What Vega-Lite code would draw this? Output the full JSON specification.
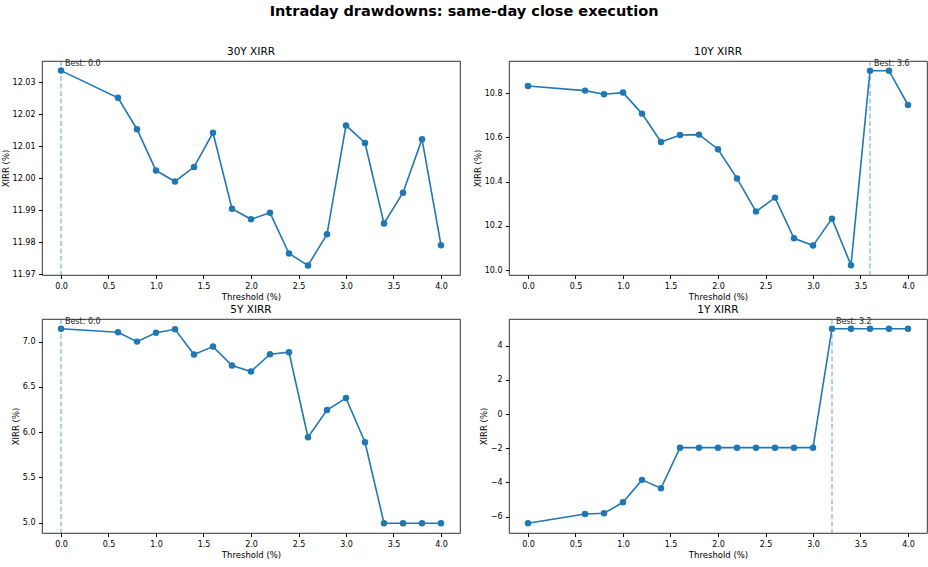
{
  "$schema": "https://vega.github.io/schema/vega-lite/v6.json",
  "title": {"text": "Intraday drawdowns: same-day close execution", "fontSize": 14.5, "fontWeight": "bold", "anchor": "middle", "offset": 27},
  "padding": {"left": 0, "top": 3, "right": 4, "bottom": 3},
  "columns": 2,
  "spacing": {"row": 3, "column": 11},
  "datasets": {
    "sweep": [
      {"period":"30Y","threshold":0,"xirr":12.0336},{"period":"30Y","threshold":0.6,"xirr":12.0251},{"period":"30Y","threshold":0.8,"xirr":12.0153},{"period":"30Y","threshold":1.0,"xirr":12.0024},{"period":"30Y","threshold":1.2,"xirr":11.999},{"period":"30Y","threshold":1.4,"xirr":12.0035},{"period":"30Y","threshold":1.6,"xirr":12.0142},{"period":"30Y","threshold":1.8,"xirr":11.9905},{"period":"30Y","threshold":2.0,"xirr":11.9872},{"period":"30Y","threshold":2.2,"xirr":11.9892},{"period":"30Y","threshold":2.4,"xirr":11.9765},{"period":"30Y","threshold":2.6,"xirr":11.9728},{"period":"30Y","threshold":2.8,"xirr":11.9825},{"period":"30Y","threshold":3.0,"xirr":12.0165},{"period":"30Y","threshold":3.2,"xirr":12.011},{"period":"30Y","threshold":3.4,"xirr":11.9859},{"period":"30Y","threshold":3.6,"xirr":11.9955},{"period":"30Y","threshold":3.8,"xirr":12.0122},{"period":"30Y","threshold":4.0,"xirr":11.9791},
      {"period":"10Y","threshold":0,"xirr":10.833},{"period":"10Y","threshold":0.6,"xirr":10.812},{"period":"10Y","threshold":0.8,"xirr":10.7955},{"period":"10Y","threshold":1.0,"xirr":10.803},{"period":"10Y","threshold":1.2,"xirr":10.708},{"period":"10Y","threshold":1.4,"xirr":10.58},{"period":"10Y","threshold":1.6,"xirr":10.611},{"period":"10Y","threshold":1.8,"xirr":10.613},{"period":"10Y","threshold":2.0,"xirr":10.547},{"period":"10Y","threshold":2.2,"xirr":10.415},{"period":"10Y","threshold":2.4,"xirr":10.265},{"period":"10Y","threshold":2.6,"xirr":10.328},{"period":"10Y","threshold":2.8,"xirr":10.144},{"period":"10Y","threshold":3.0,"xirr":10.111},{"period":"10Y","threshold":3.2,"xirr":10.233},{"period":"10Y","threshold":3.4,"xirr":10.0225},{"period":"10Y","threshold":3.6,"xirr":10.902},{"period":"10Y","threshold":3.8,"xirr":10.902},{"period":"10Y","threshold":4.0,"xirr":10.747},
      {"period":"5Y","threshold":0,"xirr":7.143},{"period":"5Y","threshold":0.6,"xirr":7.103},{"period":"5Y","threshold":0.8,"xirr":7.0},{"period":"5Y","threshold":1.0,"xirr":7.099},{"period":"5Y","threshold":1.2,"xirr":7.136},{"period":"5Y","threshold":1.4,"xirr":6.857},{"period":"5Y","threshold":1.6,"xirr":6.945},{"period":"5Y","threshold":1.8,"xirr":6.736},{"period":"5Y","threshold":2.0,"xirr":6.67},{"period":"5Y","threshold":2.2,"xirr":6.861},{"period":"5Y","threshold":2.4,"xirr":6.883},{"period":"5Y","threshold":2.6,"xirr":5.943},{"period":"5Y","threshold":2.8,"xirr":6.244},{"period":"5Y","threshold":3.0,"xirr":6.376},{"period":"5Y","threshold":3.2,"xirr":5.888},{"period":"5Y","threshold":3.4,"xirr":4.993},{"period":"5Y","threshold":3.6,"xirr":4.993},{"period":"5Y","threshold":3.8,"xirr":4.993},{"period":"5Y","threshold":4.0,"xirr":4.993},
      {"period":"1Y","threshold":0,"xirr":-6.389},{"period":"1Y","threshold":0.6,"xirr":-5.844},{"period":"1Y","threshold":0.8,"xirr":-5.805},{"period":"1Y","threshold":1.0,"xirr":-5.163},{"period":"1Y","threshold":1.2,"xirr":-3.85},{"period":"1Y","threshold":1.4,"xirr":-4.34},{"period":"1Y","threshold":1.6,"xirr":-1.965},{"period":"1Y","threshold":1.8,"xirr":-1.965},{"period":"1Y","threshold":2.0,"xirr":-1.965},{"period":"1Y","threshold":2.2,"xirr":-1.965},{"period":"1Y","threshold":2.4,"xirr":-1.965},{"period":"1Y","threshold":2.6,"xirr":-1.965},{"period":"1Y","threshold":2.8,"xirr":-1.965},{"period":"1Y","threshold":3.0,"xirr":-1.965},{"period":"1Y","threshold":3.2,"xirr":4.99},{"period":"1Y","threshold":3.4,"xirr":4.99},{"period":"1Y","threshold":3.6,"xirr":4.99},{"period":"1Y","threshold":3.8,"xirr":4.99},{"period":"1Y","threshold":4.0,"xirr":4.99}
    ],
    "best": [
      {"period":"30Y","threshold":0,"xirr":12.0336,"label":"Best: 0.0"},
      {"period":"10Y","threshold":3.6,"xirr":10.902,"label":"Best: 3.6"},
      {"period":"5Y","threshold":0,"xirr":7.143,"label":"Best: 0.0"},
      {"period":"1Y","threshold":3.2,"xirr":4.99,"label":"Best: 3.2"}
    ]
  },
  "concat": [
    {
      "title": "30Y XIRR", "width": 418, "height": 214,
      "layer": [
        {"data": {"name": "best"}, "transform": [{"filter": "datum.period === '30Y'"}],
         "mark": {"type": "rule", "color": "#1f77b4", "opacity": 0.45, "strokeDash": [5, 2.5], "strokeWidth": 1.5},
         "encoding": {"x": {"field": "threshold", "type": "quantitative", "scale": {"domain": [-0.2, 4.2], "nice": false}, "title": "Threshold (%)", "axis": {"values": [0,0.5,1,1.5,2,2.5,3,3.5,4], "format": ".1f", "tickCount": 20}}}},
        {"data": {"name": "sweep"}, "transform": [{"filter": "datum.period === '30Y'"}],
         "mark": {"type": "line", "color": "#1f77b4", "strokeWidth": 1.6, "point": {"filled": true, "size": 42, "color": "#1f77b4", "opacity": 1}},
         "encoding": {
           "x": {"field": "threshold", "type": "quantitative", "scale": {"domain": [-0.2, 4.2], "nice": false}, "title": "Threshold (%)"},
           "y": {"field": "xirr", "type": "quantitative", "scale": {"domain": [11.9698, 12.0366], "nice": false, "zero": false}, "title": "XIRR (%)", "axis": {"values": [11.97,11.98,11.99,12.0,12.01,12.02,12.03], "format": ".2f", "tickCount": 20}}}},
        {"data": {"name": "best"}, "transform": [{"filter": "datum.period === '30Y'"}],
         "mark": {"type": "text", "align": "left", "baseline": "bottom", "dx": 4, "dy": -2.5, "fontSize": 8, "color": "#222"},
         "encoding": {
           "x": {"field": "threshold", "type": "quantitative"},
           "y": {"field": "xirr", "type": "quantitative"},
           "text": {"field": "label"}}}
      ]
    },
    {
      "title": "10Y XIRR", "width": 418, "height": 214,
      "layer": [
        {"data": {"name": "best"}, "transform": [{"filter": "datum.period === '10Y'"}],
         "mark": {"type": "rule", "color": "#1f77b4", "opacity": 0.45, "strokeDash": [5, 2.5], "strokeWidth": 1.5},
         "encoding": {"x": {"field": "threshold", "type": "quantitative", "scale": {"domain": [-0.2, 4.2], "nice": false}, "title": "Threshold (%)", "axis": {"values": [0,0.5,1,1.5,2,2.5,3,3.5,4], "format": ".1f", "tickCount": 20}}}},
        {"data": {"name": "sweep"}, "transform": [{"filter": "datum.period === '10Y'"}],
         "mark": {"type": "line", "color": "#1f77b4", "strokeWidth": 1.6, "point": {"filled": true, "size": 42, "color": "#1f77b4", "opacity": 1}},
         "encoding": {
           "x": {"field": "threshold", "type": "quantitative", "scale": {"domain": [-0.2, 4.2], "nice": false}, "title": "Threshold (%)"},
           "y": {"field": "xirr", "type": "quantitative", "scale": {"domain": [9.978, 10.946], "nice": false, "zero": false}, "title": "XIRR (%)", "axis": {"values": [10.0,10.2,10.4,10.6,10.8], "format": ".1f", "tickCount": 20}}}},
        {"data": {"name": "best"}, "transform": [{"filter": "datum.period === '10Y'"}],
         "mark": {"type": "text", "align": "left", "baseline": "bottom", "dx": 4, "dy": -2.5, "fontSize": 8, "color": "#222"},
         "encoding": {
           "x": {"field": "threshold", "type": "quantitative"},
           "y": {"field": "xirr", "type": "quantitative"},
           "text": {"field": "label"}}}
      ]
    },
    {
      "title": "5Y XIRR", "width": 418, "height": 214,
      "layer": [
        {"data": {"name": "best"}, "transform": [{"filter": "datum.period === '5Y'"}],
         "mark": {"type": "rule", "color": "#1f77b4", "opacity": 0.45, "strokeDash": [5, 2.5], "strokeWidth": 1.5},
         "encoding": {"x": {"field": "threshold", "type": "quantitative", "scale": {"domain": [-0.2, 4.2], "nice": false}, "title": "Threshold (%)", "axis": {"values": [0,0.5,1,1.5,2,2.5,3,3.5,4], "format": ".1f", "tickCount": 20}}}},
        {"data": {"name": "sweep"}, "transform": [{"filter": "datum.period === '5Y'"}],
         "mark": {"type": "line", "color": "#1f77b4", "strokeWidth": 1.6, "point": {"filled": true, "size": 42, "color": "#1f77b4", "opacity": 1}},
         "encoding": {
           "x": {"field": "threshold", "type": "quantitative", "scale": {"domain": [-0.2, 4.2], "nice": false}, "title": "Threshold (%)"},
           "y": {"field": "xirr", "type": "quantitative", "scale": {"domain": [4.885, 7.25], "nice": false, "zero": false}, "title": "XIRR (%)", "axis": {"values": [5.0,5.5,6.0,6.5,7.0], "format": ".1f", "tickCount": 20}}}},
        {"data": {"name": "best"}, "transform": [{"filter": "datum.period === '5Y'"}],
         "mark": {"type": "text", "align": "left", "baseline": "bottom", "dx": 4, "dy": -2.5, "fontSize": 8, "color": "#222"},
         "encoding": {
           "x": {"field": "threshold", "type": "quantitative"},
           "y": {"field": "xirr", "type": "quantitative"},
           "text": {"field": "label"}}}
      ]
    },
    {
      "title": "1Y XIRR", "width": 418, "height": 214,
      "layer": [
        {"data": {"name": "best"}, "transform": [{"filter": "datum.period === '1Y'"}],
         "mark": {"type": "rule", "color": "#1f77b4", "opacity": 0.45, "strokeDash": [5, 2.5], "strokeWidth": 1.5},
         "encoding": {"x": {"field": "threshold", "type": "quantitative", "scale": {"domain": [-0.2, 4.2], "nice": false}, "title": "Threshold (%)", "axis": {"values": [0,0.5,1,1.5,2,2.5,3,3.5,4], "format": ".1f", "tickCount": 20}}}},
        {"data": {"name": "sweep"}, "transform": [{"filter": "datum.period === '1Y'"}],
         "mark": {"type": "line", "color": "#1f77b4", "strokeWidth": 1.6, "point": {"filled": true, "size": 42, "color": "#1f77b4", "opacity": 1}},
         "encoding": {
           "x": {"field": "threshold", "type": "quantitative", "scale": {"domain": [-0.2, 4.2], "nice": false}, "title": "Threshold (%)"},
           "y": {"field": "xirr", "type": "quantitative", "scale": {"domain": [-6.958, 5.56], "nice": false, "zero": false}, "title": "XIRR (%)", "axis": {"values": [-6,-4,-2,0,2,4], "format": "d", "tickCount": 20}}}},
        {"data": {"name": "best"}, "transform": [{"filter": "datum.period === '1Y'"}],
         "mark": {"type": "text", "align": "left", "baseline": "bottom", "dx": 4, "dy": -2.5, "fontSize": 8, "color": "#222"},
         "encoding": {
           "x": {"field": "threshold", "type": "quantitative"},
           "y": {"field": "xirr", "type": "quantitative"},
           "text": {"field": "label"}}}
      ]
    }
  ],
  "config": {
    "font": "DejaVu Sans",
    "view": {"stroke": "#000", "strokeWidth": 0.8},
    "axis": {"grid": false, "domain": false, "tickColor": "#000", "tickSize": 3.5, "labelPadding": 3.5, "labelFontSize": 8, "labelColor": "#000", "titleFontSize": 8.5, "titleFontWeight": "normal", "titleColor": "#000", "labelFont": "DejaVu Sans", "titleFont": "DejaVu Sans", "titlePadding": 2, "labelFlush": false, "labelOverlap": false},
    "title": {"fontSize": 10.5, "fontWeight": "normal", "font": "DejaVu Sans", "offset": 3, "color": "#000"}
  }
}
